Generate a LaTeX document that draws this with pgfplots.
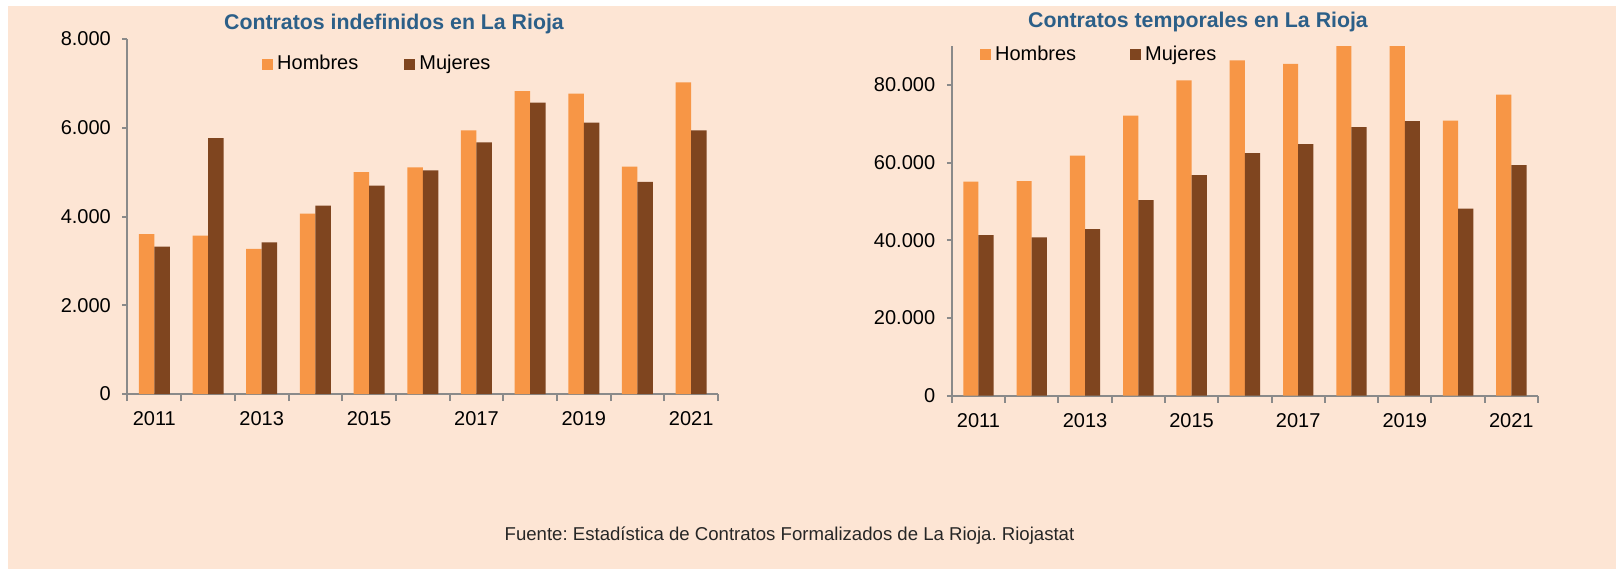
\documentclass[border=0pt]{standalone}
\usepackage{fontspec}
\setmainfont{Liberation Sans}
\usepackage{pgfplots}
\pgfplotsset{compat=1.18}
\frenchspacing

\definecolor{bgpeach}{HTML}{FDE5D4}
\definecolor{hombres}{HTML}{F79646}
\definecolor{mujeres}{HTML}{7F451F}
\definecolor{titleblue}{HTML}{2C5F88}
\definecolor{axisgray}{HTML}{8A8A8A}

\pgfplotsset{
  rioja/.style={
    scale only axis,
    ybar=0pt,
    xmin=-0.5, xmax=10.5,
    ymin=0,
    enlarge y limits=false,
    axis x line*=bottom, axis y line*=left,
    axis line style={axisgray, line width=1pt},
    xtick={0,2,4,6,8,10},
    xticklabels={2011,2013,2015,2017,2019,2021},
    major x tick style={draw=none},
    minor xtick={-0.5,0.5,...,10.5},
    minor tick length=3.5pt,
    major tick length=2.5pt,
    tick align=outside,
    tick style={axisgray, line width=1pt},
    scaled y ticks=false,
    ticklabel style={font=\fontsize{10pt}{12pt}\selectfont, text=black},
    yticklabel style={/pgf/number format/fixed, /pgf/number format/1000 sep={.},
      /pgf/number format/assume math mode=true, xshift=-2.3pt},
    xticklabel style={yshift=-2.9pt},
    legend columns=2,
    legend image code/.code={\fill[##1] (0pt,-2.75pt) rectangle (5.5pt,2.75pt);},
    title style={font=\bfseries\fontsize{10.65pt}{12pt}\selectfont, text=titleblue,
      anchor=center, yshift=-6pt},
  },
  hbar/.style={fill=hombres, draw=none},
  mbar/.style={fill=mujeres, draw=none},
}

\begin{document}
\begin{tikzpicture}
\fill[white] (0pt,0pt) rectangle (809pt,-284.5pt);
\fill[bgpeach] (4pt,-3pt) rectangle (808pt,-284.5pt);

\begin{axis}[rioja,
  at={(63.75pt,-197pt)}, anchor=south west,
  width=295.25pt, height=177.5pt,
  bar width=7.75pt,
  ymax=8000, ytick={0,2000,4000,6000,8000},
  title={Contratos indefinidos en La Rioja},
  title style={at={(0.4513,1.042)}},
  legend style={at={(0.2173,0.9296)}, anchor=west, draw=none, fill=none,
    font=\fontsize{10pt}{12pt}\selectfont,
    /tikz/every even column/.append style={column sep=21pt}},
]
\addplot[hbar] coordinates {(0,3606) (1,3568) (2,3268) (3,4064) (4,5003) (5,5108) (6,5942) (7,6828) (8,6768) (9,5123) (10,7024)};
\addplot[mbar] coordinates {(0,3320) (1,5769) (2,3418) (3,4244) (4,4695) (5,5041) (6,5672) (7,6566) (8,6115) (9,4778) (10,5942)};
\legend{Hombres,Mujeres}
\end{axis}

\begin{axis}[rioja,
  at={(475.9pt,-197.85pt)}, anchor=south west,
  width=293.1pt, height=174.85pt,
  bar width=7.6pt,
  ymax=90000, ytick={0,20000,40000,60000,80000},
  title={Contratos temporales en La Rioja},
  title style={at={(0.42,1.0695)}},
  legend style={at={(0.0373,0.975)}, anchor=west, draw=none, fill=none,
    font=\fontsize{10pt}{12pt}\selectfont,
    /tikz/every even column/.append style={column sep=25pt}},
]
\addplot[hbar] coordinates {(0,55124) (1,55210) (2,61811) (3,72099) (4,81186) (5,86330) (6,85387) (7,91500) (8,91000) (9,70813) (10,77500)};
\addplot[mbar] coordinates {(0,41322) (1,40722) (2,42865) (3,50323) (4,56753) (5,62411) (6,64726) (7,69098) (8,70642) (9,48180) (10,59325)};
\legend{Hombres,Mujeres}
\end{axis}

\node[text=black!85] at (394.75pt,-268pt) {\fontsize{9.3pt}{11pt}\selectfont Fuente: Estadística de Contratos Formalizados de La Rioja. Riojastat};

\pgfresetboundingbox
\path (0pt,0pt) rectangle (809pt,-284.5pt);
\end{tikzpicture}
\end{document}
